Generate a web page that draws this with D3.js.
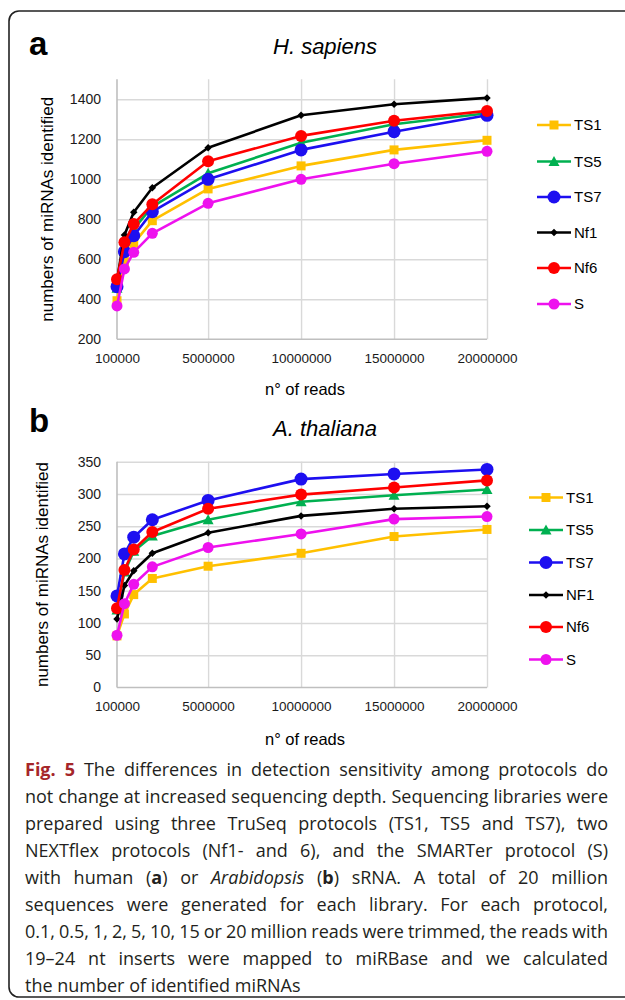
<!DOCTYPE html>
<html>
<head>
<meta charset="utf-8">
<script src="https://cdn.jsdelivr.net/npm/d3@7"></script>
<style>
  body { margin: 0; background: #fff; }
  svg { display: block; }
</style>
</head>
<body>
<svg id="fig" width="625" height="1000"></svg>
<script>
'use strict';

// x values (number of reads) shared by both panels
const reads = [100000, 500000, 1000000, 2000000, 5000000, 10000000, 15000000, 20000000];
const xTicks = [100000, 5000000, 10000000, 15000000, 20000000];

// panel a : H. sapiens
const hsTicks = [200, 400, 600, 800, 1000, 1200, 1400];
const hsTS1 = [393, 588, 680, 793, 952, 1067, 1147, 1195];
const hsTS5 = [455, 655, 752, 863, 1030, 1183, 1275, 1330];
const hsTS7 = [463, 638, 718, 838, 1000, 1147, 1238, 1320];
const hsNf1 = [495, 722, 835, 958, 1158, 1320, 1375, 1407];
const hsNf6 = [500, 685, 777, 875, 1090, 1217, 1293, 1342];
const hsS   = [367, 552, 635, 730, 880, 1000, 1078, 1140];
const hsNames = ["TS1", "TS5", "TS7", "Nf1", "Nf6", "S"];

// panel b : A. thaliana
const atTicks = [0, 50, 100, 150, 200, 250, 300, 350];
const atTS1 = [80, 114, 144, 169, 188, 208, 234, 245];
const atTS5 = [120, 179, 211, 235, 260, 288, 298, 307];
const atTS7 = [142, 207, 233, 260, 290, 323, 331, 338];
const atNF1 = [106, 158, 181, 208, 240, 266, 277, 281];
const atNf6 = [123, 182, 214, 241, 277, 299, 310, 321];
const atS   = [81, 130, 160, 187, 217, 238, 261, 265];
const atNames = ["TS1", "TS5", "TS7", "NF1", "Nf6", "S"];

// marker style per protocol (same order in both panels)
const styles = [
    { color: "#ffc000", shape: "square",   size: 9 },
    { color: "#00b050", shape: "triangle", size: 10 },
    { color: "#1d0ff0", shape: "circle",   size: 6.5 },
    { color: "#000000", shape: "diamond",  size: 7.5 },
    { color: "#ff0000", shape: "circle",   size: 6 },
    { color: "#ee11ee", shape: "circle",   size: 5.5 }
];

const svg = d3.select("#fig");
const chartFont = "'Liberation Sans', Arial, sans-serif";

// frame round the whole figure
svg.append("rect")
    .attr("x", 9).attr("y", 11)
    .attr("width", 660).attr("height", 986)
    .attr("rx", 10).attr("ry", 10)
    .style("fill", "none")
    .style("stroke", "#222")
    .style("stroke-width", 1.6);

function markerPath(st) {
    let s = st.size;
    if (st.shape === "square") return d3.symbol(d3.symbolSquare, s * s)();
    if (st.shape === "triangle") return `M0,${-s * 0.55}L${s * 0.55},${s * 0.45}L${-s * 0.55},${s * 0.45}Z`;
    if (st.shape === "diamond") return `M0,${-s / 2}L${s / 2},0L0,${s / 2}L${-s / 2},0Z`;
    return d3.symbol(d3.symbolCircle, Math.PI * s * s)();
}

function drawPanel(p) {
    let x = d3.scaleLinear().domain([reads[0], reads[reads.length - 1]]).range([117, 487]);
    let y = d3.scaleLinear().domain(p.domain).range([p.bottom, p.top]);
    let g = svg.append("g");

    // gridlines
    g.append("g")
        .attr("transform", "translate(117,0)")
        .call(d3.axisLeft(y).tickValues(p.ticks.slice(1)).tickSize(-370).tickFormat(""))
        .call(a => a.select(".domain").remove())
        .selectAll("line").style("stroke", "#d9d9d9").style("stroke-width", 1.4);
    g.append("g")
        .attr("transform", `translate(0,${p.bottom})`)
        .call(d3.axisBottom(x).tickValues(xTicks.slice(1)).tickSize(-(p.bottom - p.top)).tickFormat(""))
        .call(a => a.select(".domain").remove())
        .selectAll("line").style("stroke", "#d9d9d9").style("stroke-width", 1.4);

    // axis lines
    g.append("line").attr("x1", 117).attr("x2", 117).attr("y1", p.top).attr("y2", p.bottom)
        .style("stroke", "#bfbfbf").style("stroke-width", 1.6);
    g.append("line").attr("x1", 117).attr("x2", 487).attr("y1", p.bottom).attr("y2", p.bottom)
        .style("stroke", "#bfbfbf").style("stroke-width", 1.6);

    // tick labels
    let yAx = g.append("g")
        .attr("transform", "translate(117,0)")
        .call(d3.axisLeft(y).tickValues(p.ticks).tickSize(0).tickPadding(16).tickFormat(d3.format("d")));
    yAx.select(".domain").remove();
    yAx.selectAll("text").style("font-family", chartFont).style("font-size", "14px").style("fill", "#1a1a1a");

    let xAx = g.append("g")
        .attr("transform", `translate(0,${p.bottom})`)
        .call(d3.axisBottom(x).tickValues(xTicks).tickSize(0).tickPadding(14).tickFormat(d3.format("d")));
    xAx.select(".domain").remove();
    xAx.selectAll("text").style("font-family", chartFont).style("font-size", "13.5px").style("fill", "#1a1a1a");

    // axis titles
    g.append("text")
        .attr("transform", `translate(${p.yTitleX},${(p.top + p.bottom) / 2}) rotate(-90)`)
        .attr("dy", "0.35em")
        .style("text-anchor", "middle")
        .style("font-family", chartFont).style("font-size", "17px")
        .text("numbers of miRNAs identified");
    g.append("text")
        .attr("x", 305).attr("y", p.xTitleY)
        .style("text-anchor", "middle")
        .style("font-family", chartFont).style("font-size", "16.5px")
        .text("n° of reads");

    // panel letter and title
    g.append("text")
        .attr("x", 29).attr("y", p.letterY)
        .style("font-family", chartFont).style("font-size", "33px").style("font-weight", "bold")
        .text(p.letter);
    g.append("text")
        .attr("x", 325).attr("y", p.titleY)
        .style("text-anchor", "middle")
        .style("font-family", chartFont).style("font-size", "22px").style("font-style", "italic")
        .text(p.title);

    // series
    let line = d3.line().x((d, i) => x(reads[i])).y(d => y(d));
    p.series.forEach((vals, k) => {
        let st = styles[k];
        let sg = g.append("g");
        sg.append("path")
            .attr("d", line(vals))
            .style("fill", "none")
            .style("stroke", st.color)
            .style("stroke-width", 2.6)
            .style("stroke-linejoin", "round");
        sg.selectAll("path.mk")
            .data(vals)
            .enter()
            .append("path")
            .attr("class", "mk")
            .attr("transform", (d, i) => `translate(${x(reads[i])},${y(d)})`)
            .attr("d", markerPath(st))
            .style("fill", st.color);
    });

    // legend
    let lg = g.append("g");
    p.names.forEach((name, k) => {
        let st = styles[k];
        let ly = p.legendY[k];
        lg.append("line")
            .attr("x1", p.legendX).attr("x2", p.legendX + 34)
            .attr("y1", ly).attr("y2", ly)
            .style("stroke", st.color).style("stroke-width", 2.6);
        lg.append("path")
            .attr("transform", `translate(${p.legendX + 17},${ly})`)
            .attr("d", markerPath(st))
            .style("fill", st.color);
        lg.append("text")
            .attr("x", p.legendX + 37).attr("y", ly)
            .attr("dy", "0.35em")
            .style("font-family", chartFont).style("font-size", "15px")
            .text(name);
    });
}

drawPanel({
    letter: "a", title: "H. sapiens",
    domain: [200, 1500], ticks: hsTicks, top: 79.3, bottom: 339.3,
    letterY: 55, titleY: 54, yTitleX: 47, xTitleY: 395,
    series: [hsTS1, hsTS5, hsTS7, hsNf1, hsNf6, hsS], names: hsNames,
    legendX: 537, legendY: [125, 161.5, 197, 232.5, 268, 304]
});

drawPanel({
    letter: "b", title: "A. thaliana",
    domain: [0, 350], ticks: atTicks, top: 461.7, bottom: 687.5,
    letterY: 432, titleY: 436, yTitleX: 42, xTitleY: 745,
    series: [atTS1, atTS5, atTS7, atNF1, atNf6, atS], names: atNames,
    legendX: 529, legendY: [497.5, 530, 562.5, 595, 627, 659.5]
});

// caption, justified line by line
const capLines = [
    [["Fig. 5", "b"], [" The differences in detection sensitivity among protocols do"]],
    [["not change at increased sequencing depth. Sequencing libraries were"]],
    [["prepared using three TruSeq protocols (TS1, TS5 and TS7), two"]],
    [["NEXTflex protocols (Nf1- and 6), and the SMARTer protocol (S)"]],
    [["with human ("], ["a", "b"], [") or "], ["Arabidopsis", "i"], [" ("], ["b", "b"], [") sRNA. A total of 20 million"]],
    [["sequences were generated for each library. For each protocol,"]],
    [["0.1, 0.5, 1, 2, 5, 10, 15 or 20 million reads were trimmed, the reads with"]],
    [["19–24 nt inserts were mapped to miRBase and we calculated"]],
    [["the number of identified miRNAs"]]
];

let cap = svg.append("g")
    .style("font-family", "'Open Sans', sans-serif")
    .style("font-size", "18px")
    .style("fill", "#231f20");

capLines.forEach((segs, i) => {
    let t = cap.append("text")
        .attr("x", 25)
        .attr("y", 776 + i * 27)
        .attr("xml:space", "preserve");
    segs.forEach(s => {
        let ts = t.append("tspan").text(s[0]);
        if (s[1] === "b") ts.style("font-weight", "bold");
        if (s[1] === "i") ts.style("font-style", "italic");
        if (i === 0 && s[1] === "b") ts.style("fill", "#a5262a");
    });
    if (i < capLines.length - 1) {
        let full = segs.map(s => s[0]).join("");
        let spaces = (full.match(/ /g) || []).length;
        let natural = t.node().getComputedTextLength();
        let ws = (608 - 25 - natural) / spaces;
        t.style("word-spacing", ws + "px");
    }
});
</script>
</body>
</html>
